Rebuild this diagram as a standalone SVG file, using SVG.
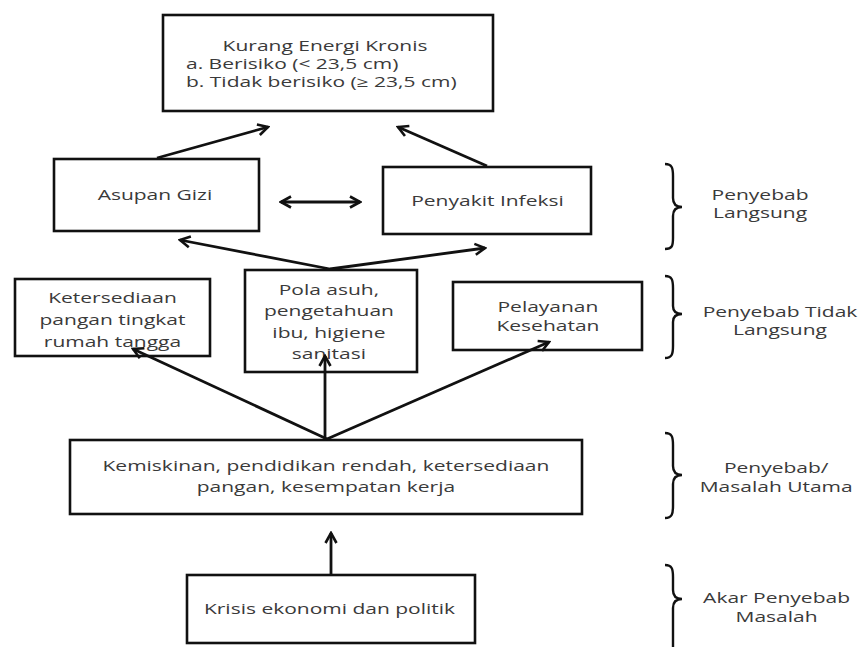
<svg xmlns="http://www.w3.org/2000/svg" width="863" height="647" viewBox="0 0 863 647">
<defs>
<style>
.box{fill:#fff;stroke:#111;stroke-width:2.6}
.t{font-family:"Open Sans","Noto Sans","DejaVu Sans",sans-serif;font-size:14px;fill:#3a3a3a;text-anchor:middle}
.l{text-anchor:start}
.c{fill:none;stroke:#111;stroke-width:2.8}
.br{fill:none;stroke:#111;stroke-width:2.4}
</style>
<marker id="ah" viewBox="0 0 14 14" refX="12" refY="7" markerWidth="14" markerHeight="14" markerUnits="userSpaceOnUse" orient="auto-start-reverse">
<path d="M2,1.5 L12,7 L2,12.5" fill="none" stroke="#111" stroke-width="2.6"/>
</marker>
</defs>
<rect width="863" height="647" fill="#fff"/>

<g id="kek">
<rect class="box" x="163" y="15" width="330" height="96"/>
<text class="t" transform="scale(1.5,1)" x="216.7" y="51">Kurang Energi Kronis</text>
<text class="t l" transform="scale(1.5,1)" x="124" y="69">a. Berisiko (&lt; 23,5 cm)</text>
<text class="t l" transform="scale(1.5,1)" x="124" y="87">b. Tidak berisiko (≥ 23,5 cm)</text>
</g>

<g id="asupan">
<rect class="box" x="54" y="159" width="205" height="72"/>
<text class="t" transform="scale(1.5,1)" x="103.3" y="200">Asupan Gizi</text>
</g>

<g id="infeksi">
<rect class="box" x="383" y="167" width="208" height="67"/>
<text class="t" transform="scale(1.5,1)" x="325" y="206">Penyakit Infeksi</text>
</g>

<g id="pangan">
<rect class="box" x="15" y="279" width="195" height="77"/>
<text class="t" transform="scale(1.5,1)" y="303"><tspan x="75" y="303">Ketersediaan</tspan><tspan x="75" y="325">pangan tingkat</tspan><tspan x="75" y="347">rumah tangga</tspan></text>
</g>

<g id="polaasuh">
<rect class="box" x="245" y="270" width="172" height="102"/>
<text class="t" transform="scale(1.5,1)"><tspan x="219.3" y="295">Pola asuh,</tspan><tspan x="219.3" y="316">pengetahuan</tspan><tspan x="219.3" y="338">ibu, higiene</tspan><tspan x="219.3" y="359">sanitasi</tspan></text>
</g>

<g id="pelayanan">
<rect class="box" x="453" y="282" width="189" height="68"/>
<text class="t" transform="scale(1.5,1)"><tspan x="365.3" y="312">Pelayanan</tspan><tspan x="365.3" y="331">Kesehatan</tspan></text>
</g>

<g id="kemiskinan">
<rect class="box" x="70" y="440" width="512" height="74"/>
<text class="t" transform="scale(1.5,1)"><tspan x="217.3" y="471">Kemiskinan, pendidikan rendah, ketersediaan</tspan><tspan x="217.3" y="492">pangan, kesempatan kerja</tspan></text>
</g>

<g id="krisis">
<rect class="box" x="187" y="575" width="288" height="68"/>
<text class="t" transform="scale(1.5,1)" x="219.7" y="614">Krisis ekonomi dan politik</text>
</g>

<g id="connectors">
<line class="c" x1="157" y1="158" x2="268" y2="127" marker-end="url(#ah)"/>
<line class="c" x1="487" y1="166" x2="398" y2="127" marker-end="url(#ah)"/>
<line class="c" x1="281" y1="202" x2="360" y2="202" marker-start="url(#ah)" marker-end="url(#ah)"/>
<line class="c" x1="330" y1="269" x2="180" y2="240" marker-end="url(#ah)"/>
<line class="c" x1="330" y1="269" x2="485" y2="248" marker-end="url(#ah)"/>
<line class="c" x1="327" y1="439" x2="133" y2="349" marker-end="url(#ah)"/>
<line class="c" x1="325" y1="439" x2="325" y2="356" marker-end="url(#ah)"/>
<line class="c" x1="327" y1="439" x2="549" y2="342" marker-end="url(#ah)"/>
<line class="c" x1="331" y1="574" x2="331" y2="533" marker-end="url(#ah)"/>
</g>

<g id="lbl-langsung">
<path class="br" d="M665,164 C672,164 673,168 673,176 L673,198 C673,204 676,207 682,207 C676,207 673,210 673,216 L673,238 C673,246 672,249 665,249"/>
<text class="t" transform="scale(1.5,1)"><tspan x="506.7" y="200">Penyebab</tspan><tspan x="506.7" y="218">Langsung</tspan></text>
</g>

<g id="lbl-tidaklangsung">
<path class="br" d="M665,276 C672,276 673,280 673,288 L673,306 C673,311 676,314 682,314 C676,314 673,317 673,322 L673,346 C673,354 672,358 665,358"/>
<text class="t" transform="scale(1.5,1)"><tspan x="520" y="317">Penyebab Tidak</tspan><tspan x="520" y="335">Langsung</tspan></text>
</g>

<g id="lbl-utama">
<path class="br" d="M665,433 C672,433 673,437 673,445 L673,466 C673,472 676,475 682,475 C676,475 673,478 673,484 L673,506 C673,514 672,518 665,518"/>
<text class="t" transform="scale(1.5,1)"><tspan x="517.5" y="473">Penyebab/</tspan><tspan x="517.5" y="492">Masalah Utama</tspan></text>
</g>

<g id="lbl-akar">
<path class="br" d="M665,565 C672,565 673,569 673,577 L673,590 C673,596 676,599 682,599 C676,599 673,602 673,608 L673,650"/>
<text class="t" transform="scale(1.5,1)"><tspan x="517.7" y="603">Akar Penyebab</tspan><tspan x="517.7" y="622">Masalah</tspan></text>
</g>
</svg>
